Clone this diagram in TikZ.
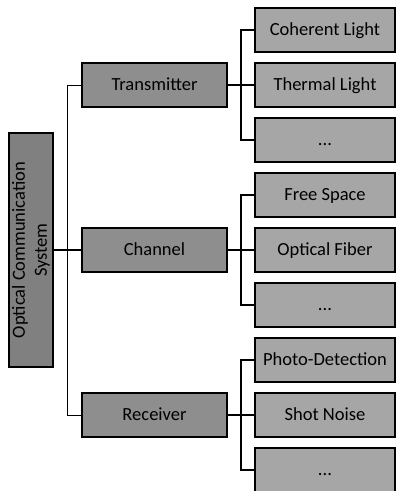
\documentclass[tikz,border=0pt]{standalone}
\usepackage{fontspec}
\setmainfont{Carlito}
\begin{document}
\begin{tikzpicture}[x=1pt,y=1pt,
  box/.style={draw=black,line width=1.2pt,minimum height=44pt,inner sep=0pt,font=\fontsize{18.5}{22}\selectfont},
  rootbox/.style={box,fill=rootgray,minimum width=234pt,minimum height=44pt,rotate=90,align=center},
  midbox/.style={box,fill=midgray,minimum width=145pt,text height=11pt,text depth=0pt},
  leafbox/.style={box,fill=leafgray,minimum width=140pt,text height=11pt,text depth=0pt},
  thin/.style={line width=1pt},
  thick/.style={line width=1.6pt}]
\definecolor{rootgray}{HTML}{808080}
\definecolor{midgray}{HTML}{8E8E8E}
\definecolor{leafgray}{HTML}{A6A6A6}
\useasboundingbox (0,0) rectangle (397,-491);
\node[rootbox] (root) at (31,-250) {Optical Communication\\System};
\node[midbox] (tx) at (154.5,-85) {Transmitter};
\node[midbox] (ch) at (154.5,-250) {Channel};
\node[midbox] (rx) at (154.5,-415) {Receiver};
\node[leafbox] (l1) at (325,-30) {Coherent Light};
\node[leafbox] (l2) at (325,-85) {Thermal Light};
\node[leafbox] (l3) at (325,-140) {...};
\node[leafbox] (l4) at (325,-195) {Free Space};
\node[leafbox] (l5) at (325,-250) {Optical Fiber};
\node[leafbox] (l6) at (325,-305) {...};
\node[leafbox] (l7) at (325,-360) {Photo-Detection};
\node[leafbox] (l8) at (325,-415) {Shot Noise};
\node[leafbox] (l9) at (325,-470) {...};
\coordinate (j0) at (67,-250);
\coordinate (j1) at (241,-85);
\coordinate (j2) at (241,-250);
\coordinate (j3) at (241,-415);
\draw[thick] (root.south) -- (j0);
\draw[thin] (tx.west) -| (j0);
\draw[thin] (rx.west) -| (j0);
\draw[thick] (ch.west) -- (j0);
\draw[thick] (tx.east) -- (j1);
\draw[thick] (l1.west) -| (j1);
\draw[thick] (l2.west) -- (j1);
\draw[thick] (l3.west) -| (j1);
\draw[thick] (ch.east) -- (j2);
\draw[thick] (l4.west) -| (j2);
\draw[thick] (l5.west) -- (j2);
\draw[thick] (l6.west) -| (j2);
\draw[thick] (rx.east) -- (j3);
\draw[thick] (l7.west) -| (j3);
\draw[thick] (l8.west) -- (j3);
\draw[thick] (l9.west) -| (j3);
\end{tikzpicture}
\end{document}
